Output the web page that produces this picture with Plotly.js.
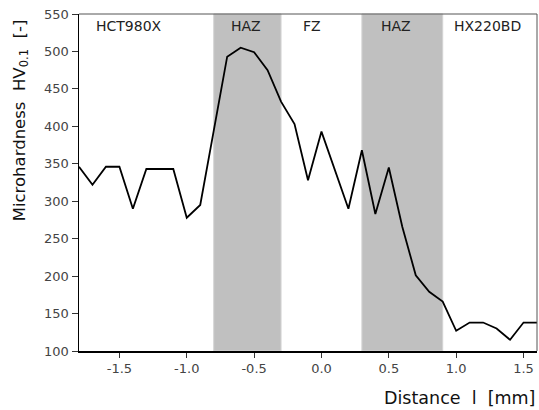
<!DOCTYPE html>
<html>
<head>
<meta charset="utf-8">
<script src="https://cdn.plot.ly/plotly-3.0.1.min.js"></script>
<style>html,body{margin:0;padding:0;background:#fff;}#chart{width:539px;height:410px;}</style>
</head>
<body>
<div id="chart"></div>
<script>
var distance = [-1.8,-1.7,-1.6,-1.5,-1.4,-1.3,-1.2,-1.1,-1.0,-0.9,-0.8,-0.7,-0.6,-0.5,-0.4,-0.3,-0.2,-0.1,0.0,0.1,0.2,0.3,0.4,0.5,0.6,0.7,0.8,0.9,1.0,1.1,1.2,1.3,1.4,1.5,1.6];
var hardness = [346,322,346,346,290,343,343,343,278,295,394,493,505,499,475,433,403,328,393,342,290,368,283,345,266,201,179,166,127,138,138,130,115,138,138];
var xTickVals = [-1.5,-1.0,-0.5,0.0,0.5,1.0,1.5];
var xTickText = ["-1.5","-1.0","-0.5","0.0","0.5","1.0","1.5"];
var zoneNames = ["HCT980X","HAZ","FZ","HAZ","HX220BD"];
var zoneLabelX = [-1.43,-0.56,-0.07,0.55,1.23];
var shadedStart = [-0.8,0.3];
var shadedEnd = [-0.3,0.9];

var font = "DejaVu Sans, Verdana, sans-serif";
var shapes = [];
for (var i = 0; i < shadedStart.length; i++) {
  shapes.push({type:'rect', xref:'x', yref:'paper', x0:shadedStart[i], x1:shadedEnd[i], y0:0, y1:1,
    fillcolor:'#c0c0c0', line:{color:'#d4d4d4', width:1}, layer:'below'});
}
shapes.push({type:'line', xref:'paper', yref:'paper', x0:0, x1:1, y0:1, y1:1, line:{color:'#555', width:1}});
shapes.push({type:'line', xref:'paper', yref:'paper', x0:1, x1:1, y0:0, y1:1, line:{color:'#555', width:1}});

var annotations = [];
for (var j = 0; j < zoneNames.length; j++) {
  annotations.push({x:zoneLabelX[j], xref:'x', y:550, yref:'y', yshift:-12, text:zoneNames[j], showarrow:false,
    font:{family:font, size:14, color:'#222'}, xanchor:'center', yanchor:'middle'});
}
annotations.push({xref:'paper', yref:'paper', x:-0.129, y:0.99, xanchor:'center', yanchor:'top', textangle:-90,
  text:'Microhardness\u00A0\u00A0HV<sub>0.1</sub>\u00A0\u00A0[-]', showarrow:false, font:{family:font, size:16.5, color:'#111'}});
annotations.push({xref:'paper', yref:'paper', x:1.0, y:-0.139, xanchor:'right', yanchor:'middle',
  text:'Distance\u00A0\u00A0l\u00A0\u00A0[mm]', showarrow:false, font:{family:font, size:17.5, color:'#111'}});

var trace = {x:distance, y:hardness, type:'scatter', mode:'lines', line:{color:'#000', width:1.8}, hoverinfo:'none'};

var layout = {
  width:539, height:410,
  margin:{l:79, r:2, t:14, b:59},
  paper_bgcolor:'#fff', plot_bgcolor:'#fff',
  showlegend:false,
  font:{family:font, size:13, color:'#444'},
  xaxis:{range:[-1.8,1.6], tickmode:'array', tickvals:xTickVals, ticktext:xTickText, ticks:'outside', ticklen:5, tickcolor:'#333',
    showline:true, linecolor:'#000', linewidth:1.5, showgrid:false, zeroline:false,
    tickfont:{family:font, size:13, color:'#444'}},
  yaxis:{range:[100,550], dtick:50, ticks:'outside', ticklen:6, tickcolor:'#333',
    showline:true, linecolor:'#000', linewidth:1.5, showgrid:false, zeroline:false,
    tickfont:{family:font, size:13, color:'#444'}},
  shapes:shapes,
  annotations:annotations
};
Plotly.newPlot('chart', [trace], layout, {staticPlot:true, displayModeBar:false});
</script>
</body>
</html>
